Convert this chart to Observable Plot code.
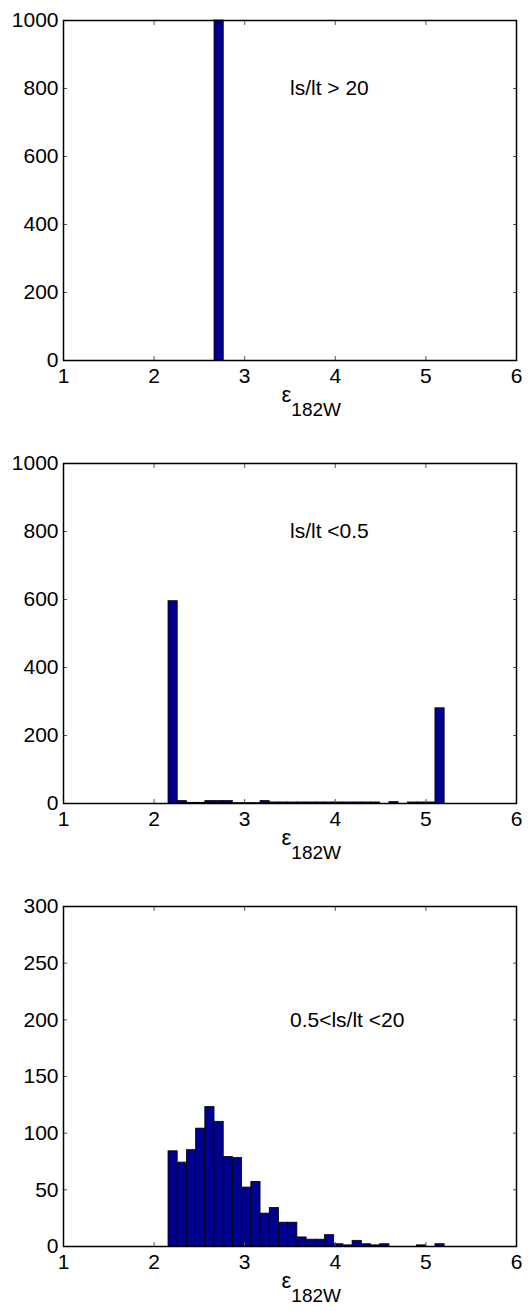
<!DOCTYPE html>
<html><head><meta charset="utf-8">
<script src="https://cdn.jsdelivr.net/npm/d3@7"></script>
<script src="https://cdn.jsdelivr.net/npm/@observablehq/plot@0.6"></script>
<style>
body{margin:0;background:#fff;font-family:"Liberation Sans",Arial,sans-serif;}
#chart svg{display:block}
</style></head><body><div id="chart"></div>
<script>
// x axis ticks
const xTicks = [1, 2, 3, 4, 5, 6];
// histogram bins (30 bins)
const binStart = 2.159;
const binWidth = 0.1016;
// panel annotations
const panelLabels = ["ls/lt > 20", "ls/lt <0.5", "0.5<ls/lt <20"];
const panelLabelY = [800, 800, 200];
// counts per bin
const countsA = [0,0,0,0,0,1000,0,0,0,0,0,0,0,0,0,0,0,0,0,0,0,0,0,0,0,0,0,0,0,0];
const countsB = [595,7,2,2,7,7,7,1,1,1,7,3,3,3,3,3,3,3,3,3,3,3,3,0,4,0,3,3,3,280];
const countsC = [84,74,85,104,123,110,79,78,52,57,29,34,21,21,8,6,6,10,2,1,5,2,1,2,0,0,0,1,0,2];
// y ticks
const yTicksAB = [0, 200, 400, 600, 800, 1000];
const yTicksC = [0, 50, 100, 150, 200, 250, 300];
// axis label
const xLabelMain = "ε";
const xLabelSub = "182W";

const font = "'Liberation Sans', Arial, Helvetica, sans-serif";

function panel(counts, yTicks, label, labelY, height, marginBottom) {
  const data = counts.map((c, i) => ({x1: binStart + i * binWidth, x2: binStart + (i + 1) * binWidth, y: c})).filter(d => d.y > 0);
  const yMax = yTicks[yTicks.length - 1];
  const marginTop = 20;
  const svg = Plot.plot({
    width: 529, height, marginTop, marginBottom, marginLeft: 63, marginRight: 13,
    style: {fontFamily: font, fontSize: "21px", color: "#000", background: "#fff", overflow: "visible"},
    x: {domain: [1, 6]},
    y: {domain: [0, yMax]},
    marks: [
      Plot.rectY(data, {x1: "x1", x2: "x2", y: "y", fill: "#00008F", stroke: "#000", strokeWidth: 0.8}),
      Plot.axisX(xTicks, {anchor: "bottom", tickSize: -4, tickPadding: 12, label: null, tickFormat: d => String(d), stroke: "#555"}),
      Plot.axisX(xTicks, {anchor: "top", tickSize: -4, fill: "none", label: null, tickFormat: () => "", stroke: "#555"}),
      Plot.axisY(yTicks, {anchor: "left", tickSize: -4, tickPadding: 9, label: null, tickFormat: d => String(d), stroke: "#555"}),
      Plot.axisY(yTicks, {anchor: "right", tickSize: -4, fill: "none", label: null, tickFormat: () => "", stroke: "#555"}),
      Plot.frame({stroke: "#000", strokeWidth: 1.5}),
      Plot.text([label], {x: 3.5, y: labelY, text: d => d, textAnchor: "start", fontSize: 21, fill: "#000"})
    ]
  });
  const xs = svg.scale("x");
  const cx = (xs.range[0] + xs.range[1]) / 2;
  const axisY = height - marginBottom;
  const t = d3.select(svg).append("text")
    .attr("x", cx - 8).attr("y", axisY + 42)
    .attr("text-anchor", "start")
    .attr("font-family", font)
    .attr("font-size", 22)
    .attr("fill", "#000");
  t.append("tspan").text(xLabelMain);
  t.append("tspan").attr("dy", 14).attr("font-size", 19).text(xLabelSub);
  return svg;
}

const root = document.getElementById("chart");
root.appendChild(panel(countsA, yTicksAB, panelLabels[0], panelLabelY[0], 443, 83));
root.appendChild(panel(countsB, yTicksAB, panelLabels[1], panelLabelY[1], 443, 83));
root.appendChild(panel(countsC, yTicksC, panelLabels[2], panelLabelY[2], 425, 65));
</script></body></html>
